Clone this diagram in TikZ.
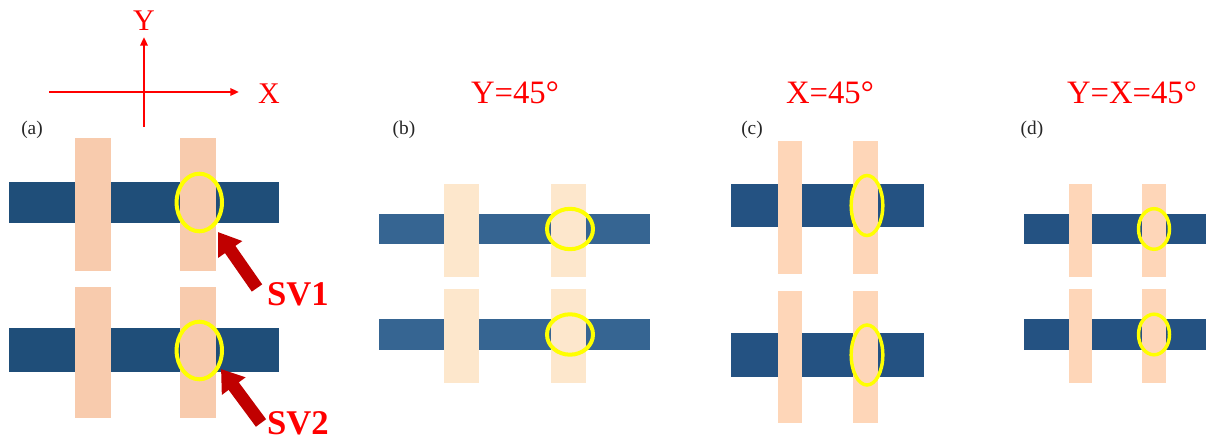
\documentclass[tikz,border=0pt]{standalone}
\usepackage{fontspec}
\setmainfont{Liberation Serif}
\usetikzlibrary{arrows.meta}
\definecolor{hA}{HTML}{1F4E79}
\definecolor{vA}{HTML}{F8CBAD}
\definecolor{hB}{HTML}{366592}
\definecolor{vB}{HTML}{FDE7CC}
\definecolor{hC}{HTML}{245282}
\definecolor{vC}{HTML}{FED6B8}
\definecolor{ring}{HTML}{FFFF00}
\definecolor{pure}{HTML}{FF0000}
\definecolor{darkarrow}{HTML}{C00000}
\begin{document}
\begin{tikzpicture}[x=0.75pt,y=-0.75pt,
  axisline/.style={draw=pure,line width=1.6pt,-{Triangle[length=6.5pt,width=5.5pt]}},
  axislabel/.style={text=pure,font=\fontsize{22.5}{24}\selectfont,inner sep=0pt},
  title/.style={text=pure,font=\fontsize{24.5}{26}\selectfont,inner sep=0pt},
  panellabel/.style={text=black!85,font=\fontsize{14.5}{16}\selectfont,inner sep=0pt},
  svlabel/.style={text=pure,font=\fontsize{26}{28}\selectfont\bfseries,inner sep=0pt},
  bigarrow/.style={draw=darkarrow,line width=9.5pt,-{Triangle[length=16pt,width=21pt]}},
  ringA/.style={draw=ring,line width=3pt},
  ringC/.style={draw=ring,line width=2.6pt}]
\useasboundingbox (0,0) rectangle (1206,441);

% axes
\coordinate (xs) at (49,92);
\coordinate (xe) at (239,92);
\coordinate (ys) at (144,127);
\coordinate (ye) at (144,37);
\draw[axisline] (xs) -- (xe);
\draw[axisline] (ys) -- (ye);
\node[axislabel] (ylab) at (144,21) {Y};
\node[axislabel] (xlab) at (269,94) {X};

% panel labels and titles
\node[panellabel] (la) at (32,130) {(a)};
\node[panellabel] (lb) at (404,130) {(b)};
\node[panellabel] (lc) at (752,130) {(c)};
\node[panellabel] (ld) at (1032,130) {(d)};
\node[title] (tb) at (515,93) {Y=45°};
\node[title] (tc) at (830,93) {X=45°};
\node[title] (td) at (1132,93) {Y=X=45°};

% panel (a)
\fill[hA] (9,182) rectangle (279,223);
\fill[hA] (9,328) rectangle (279,372);
\fill[vA] (75,138) rectangle (111,271);
\fill[vA] (180,138) rectangle (216,271);
\fill[vA] (75,287) rectangle (111,418);
\fill[vA] (180,287) rectangle (216,418);
\draw[ringA] (199.3,202.5) ellipse [x radius=22.7, y radius=28.8];
\draw[ringA] (199.3,350.5) ellipse [x radius=22.7, y radius=28.8];

% panel (b)
\fill[hB] (379,214) rectangle (650,244);
\fill[hB] (379,319) rectangle (650,350);
\fill[vB] (444,184) rectangle (479,277);
\fill[vB] (551,184) rectangle (586,277);
\fill[vB] (444,289) rectangle (479,383);
\fill[vB] (551,289) rectangle (586,383);
\draw[ringA] (570,229) ellipse [x radius=23, y radius=20.2];
\draw[ringA] (570,334.5) ellipse [x radius=23, y radius=20.2];

% panel (c)
\fill[hC] (731,184) rectangle (924,227);
\fill[hC] (731,333) rectangle (924,377);
\fill[vC] (778,141) rectangle (802,274);
\fill[vC] (853,141) rectangle (878,274);
\fill[vC] (778,291) rectangle (802,423);
\fill[vC] (853,291) rectangle (878,423);
\draw[ringC] (867,205.5) ellipse [x radius=15.8, y radius=30];
\draw[ringC] (867,355) ellipse [x radius=15.8, y radius=30];

% panel (d)
\fill[hC] (1024,214) rectangle (1206,244);
\fill[hC] (1024,319) rectangle (1206,350);
\fill[vC] (1069,184) rectangle (1092,277);
\fill[vC] (1142,184) rectangle (1166,277);
\fill[vC] (1069,289) rectangle (1092,383);
\fill[vC] (1142,289) rectangle (1166,383);
\draw[ringC] (1154,229) ellipse [x radius=15.5, y radius=20.3];
\draw[ringC] (1154,334.5) ellipse [x radius=15.5, y radius=20.3];

% SV arrows and labels
\coordinate (sv1tail) at (257,288);
\coordinate (sv1tip) at (218,232);
\coordinate (sv2tail) at (261,423);
\coordinate (sv2tip) at (221,369);
\draw[bigarrow] (sv1tail) -- (sv1tip);
\draw[bigarrow] (sv2tail) -- (sv2tip);
\node[svlabel] (sv1) at (298,294) {SV1};
\node[svlabel] (sv2) at (298,423) {SV2};
\end{tikzpicture}
\end{document}
